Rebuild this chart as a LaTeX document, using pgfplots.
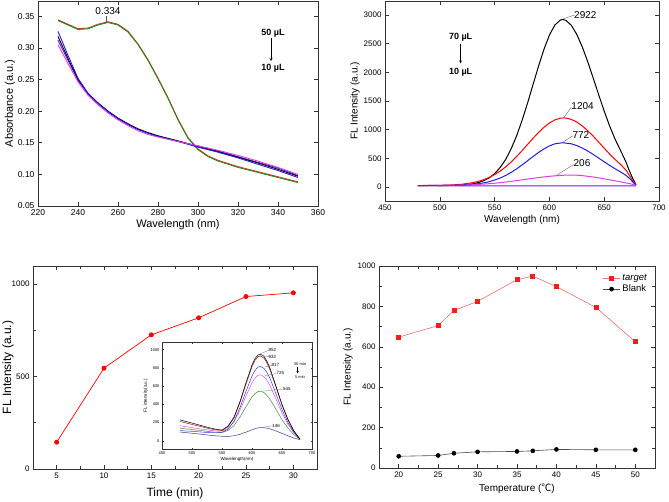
\documentclass[border=0pt]{standalone}
\usepackage{fontspec}
\setmainfont{Liberation Sans}
\newfontfamily\cjk{Noto Sans CJK SC}
\usepackage{pgfplots}
\pgfplotsset{compat=1.18}
\definecolor{pgreen}{RGB}{40,135,30}
\definecolor{pred}{RGB}{230,45,25}
\definecolor{pblue}{RGB}{30,30,225}
\definecolor{pmag}{RGB}{230,60,230}
\definecolor{ppur}{RGB}{110,30,210}
\definecolor{ired}{RGB}{150,20,20}
\definecolor{iblue}{RGB}{60,60,225}
\definecolor{imag}{RGB}{225,80,225}
\definecolor{igreen}{RGB}{50,150,50}
\definecolor{inavy}{RGB}{60,60,160}
\definecolor{tred}{RGB}{240,30,30}
\definecolor{tline}{RGB}{240,110,110}
\pgfplotsset{mystyle/.style={scale only axis, anchor=south west,
  axis line style={line width=0.6pt, black!80},
  tick style={black!80, line width=0.5pt},
  /pgf/number format/assume math mode=true,
  /pgf/number format/1000 sep={},
  tick label style={font=\fontsize{8.5}{9}\selectfont},
  label style={font=\fontsize{11}{12}\selectfont},
  clip=false},
  ylab/.style={ylabel style={at={(axis description cs:0,0.5)}, anchor=center, yshift=#1}},
  xlab/.style={xlabel style={at={(axis description cs:0.5,0)}, anchor=center, yshift=#1}}}
\begin{document}
\begin{tikzpicture}
\path[use as bounding box] (0,0) rectangle (669pt,501pt);
% ---------------- Panel 1
\begin{axis}[mystyle, at={(38pt,295pt)}, width=280pt, height=205pt,
  xmin=220, xmax=360, ymin=0.05, ymax=0.374,
  xtick={220,240,...,360}, ytick={0.05,0.10,...,0.36},
  y tick label style={/pgf/number format/.cd, fixed, fixed zerofill, precision=2},
  xlabel={Wavelength (nm)}, ylabel={Absorbance (a.u.)},
  ylab=28pt, xlab=-19pt]
\addplot[pred, line width=0.9pt] coordinates {(230,0.3442)(235,0.3372)(240,0.3302)(245,0.3312)(250,0.3372)(255,0.3412)(260,0.3372)(265,0.3262)(270,0.3062)(275,0.2812)(280,0.2522)(285,0.2212)(290,0.1872)(295,0.1582)(300,0.1402)(305,0.1292)(310,0.1222)(320,0.1122)(330,0.1042)(340,0.0962)(350,0.0882)};
\addplot[pgreen, line width=0.9pt] coordinates {(230,0.343)(235,0.336)(240,0.329)(245,0.330)(250,0.336)(255,0.340)(260,0.336)(265,0.325)(270,0.305)(275,0.280)(280,0.251)(285,0.220)(290,0.186)(295,0.157)(300,0.139)(305,0.128)(310,0.121)(320,0.111)(330,0.103)(340,0.095)(350,0.087)};
\addplot[ppur, line width=0.9pt] coordinates {(230,0.312)(235,0.280)(240,0.249)(245,0.227)(250,0.212)(255,0.199)(260,0.188)(265,0.179)(270,0.171)(275,0.165)(280,0.160)(290,0.152)(300,0.145)(310,0.137)(320,0.128)(330,0.119)(340,0.110)(350,0.098)};
\addplot[black, line width=0.9pt] coordinates {(230,0.318)(235,0.283)(240,0.250)(245,0.228)(250,0.213)(255,0.200)(260,0.189)(265,0.180)(270,0.172)(275,0.166)(280,0.161)(290,0.153)(300,0.144)(310,0.136)(320,0.127)(330,0.118)(340,0.108)(350,0.097)};
\addplot[pblue, line width=0.9pt] coordinates {(230,0.326)(235,0.288)(240,0.252)(245,0.228)(250,0.212)(255,0.199)(260,0.188)(265,0.179)(270,0.171)(275,0.165)(280,0.160)(290,0.152)(300,0.143)(310,0.135)(320,0.126)(330,0.116)(340,0.106)(350,0.095)};
\addplot[pmag, line width=0.9pt] coordinates {(230,0.305)(235,0.275)(240,0.246)(245,0.225)(250,0.210)(255,0.197)(260,0.186)(265,0.177)(270,0.169)(275,0.163)(280,0.159)(290,0.152)(300,0.145)(310,0.138)(320,0.130)(330,0.121)(340,0.111)(350,0.100)};
\draw[black!70, line width=0.5pt] (axis cs:254,0.341) -- (axis cs:254,0.351);
\node[anchor=south, inner sep=1pt, font=\fontsize{10}{11}\selectfont] at (axis cs:255,0.350) {0.334};
\node[font=\bfseries\fontsize{9}{10}\selectfont] at (axis cs:337.5,0.323) {50 µL};
\draw[-stealth, black, line width=0.4pt] (axis cs:336.5,0.316) -- (axis cs:336.5,0.279);
\node[font=\bfseries\fontsize{9}{10}\selectfont] at (axis cs:337.5,0.268) {10 µL};
\end{axis}
% ---------------- Panel 2
\begin{axis}[mystyle, at={(385pt,300pt)}, width=274pt, height=200pt,
  xmin=450, xmax=700, ymin=-245, ymax=3245,
  xtick={450,500,...,700}, ytick={0,500,...,3000},
  tick label style={font=\fontsize{8}{9}\selectfont},
  label style={font=\fontsize{10}{11}\selectfont},
  scaled y ticks=false,
  xlabel={Wavelength (nm)}, ylabel={FL Intensity (a.u.)},
  ylab=30pt, xlab=-19pt]
\addplot[black, line width=1pt] coordinates {(480,25)(490,25)(500,25)(510,27)(520,34)(530,54)(535,75)(540,108)(545,158)(550,232)(555,338)(560,477)(565,662)(570,888)(575,1158)(580,1459)(585,1783)(590,2102)(595,2401)(600,2650)(605,2826)(610,2913)(612,2922)(615,2908)(620,2821)(625,2661)(630,2444)(635,2183)(640,1899)(645,1607)(650,1323)(655,1062)(660,830)(665,633)(670,430)(673,280)(676,150)(679,40)};
\addplot[red, line width=1pt] coordinates {(480,25)(490,26)(500,28)(510,34)(520,47)(530,75)(535,97)(540,127)(545,166)(550,216)(555,276)(560,349)(565,434)(570,530)(575,632)(580,740)(585,848)(590,949)(595,1041)(600,1116)(605,1170)(610,1199)(613,1204)(615,1203)(620,1179)(625,1133)(630,1065)(635,981)(640,886)(645,782)(650,677)(655,574)(660,479)(665,392)(670,290)(673,200)(676,110)(679,35)};
\addplot[pblue, line width=1pt] coordinates {(480,25)(500,26)(510,28)(520,33)(530,45)(535,56)(540,71)(545,92)(550,120)(555,155)(560,200)(565,253)(570,314)(575,383)(580,456)(585,530)(590,601)(595,664)(600,716)(605,753)(612,772)(620,753)(625,722)(630,679)(635,627)(640,567)(645,504)(650,439)(655,376)(660,317)(665,262)(670,200)(673,150)(676,90)(679,30)};
\addplot[pmag, line width=1pt] coordinates {(480,22)(490,23)(500,24)(510,27)(520,31)(530,39)(540,50)(550,65)(560,85)(570,110)(580,137)(590,164)(600,186)(610,202)(615,206)(620,207)(625,205)(630,198)(640,174)(650,141)(660,107)(670,70)(675,50)(679,30)};
\addplot[ppur, line width=1pt] coordinates {(480,22)(520,20)(560,18)(600,17)(640,17)(679,20)};
\draw[black!60, line width=0.4pt] (axis cs:612,2930) -- (axis cs:623,3000);
\node[anchor=west, inner sep=0.5pt, font=\fontsize{10}{11}\selectfont] at (axis cs:622,3000) {2922};
\draw[black!60, line width=0.4pt] (axis cs:613,1210) -- (axis cs:620,1390);
\node[anchor=west, inner sep=0.5pt, font=\fontsize{10}{11}\selectfont] at (axis cs:619.5,1410) {1204};
\draw[black!60, line width=0.4pt] (axis cs:612,778) -- (axis cs:621,890);
\node[anchor=west, inner sep=0.5pt, font=\fontsize{10}{11}\selectfont] at (axis cs:620.5,910) {772};
\draw[black!60, line width=0.4pt] (axis cs:607,210) -- (axis cs:622,390);
\node[anchor=west, inner sep=0.5pt, font=\fontsize{10}{11}\selectfont] at (axis cs:621.5,410) {206};
\node[font=\bfseries\fontsize{9}{10}\selectfont] at (axis cs:519,2618) {70 µL};
\draw[-stealth, black, line width=0.4pt] (axis cs:519,2503) -- (axis cs:519,2155);
\node[font=\bfseries\fontsize{9}{10}\selectfont] at (axis cs:519,2009) {10 µL};
\end{axis}
% ---------------- Panel 3
\begin{axis}[mystyle, at={(33pt,32pt)}, width=284pt, height=203pt,
  xmin=2.5, xmax=32.5, ymin=0, ymax=1097,
  xtick={5,10,...,30}, ytick={0,500,1000},
  minor x tick num=1, minor y tick num=1,
  scaled y ticks=false,
  tick label style={font=\fontsize{8}{9}\selectfont},
  label style={font=\fontsize{12}{13}\selectfont},
  xlabel={Time (min)}, ylabel={FL Intensity (a.u.)},
  ylab=25pt, xlab=-24pt]
\addplot[red, line width=0.7pt, mark=*, mark size=2.1pt, mark options={fill=red, draw=red}] coordinates {(5,145)(10,545)(15,725)(20,817)(25,932)(30,952)};
\end{axis}
% ---------------- Inset
\begin{axis}[mystyle, at={(162pt,52pt)}, width=150pt, height=107pt,
  axis background/.style={fill=white},
  xmin=450, xmax=700, ymin=-90, ymax=1085,
  xtick={450,500,...,700}, ytick={0,200,...,1000},
  scaled y ticks=false, clip=false,
  tick label style={font=\fontsize{4}{4.5}\selectfont},
  tick align=inside, major tick length=1.5pt,
  label style={font=\fontsize{4.5}{5}\selectfont},
  xticklabel shift=-1pt, yticklabel shift=-1pt,
  xlabel={Wavelength(nm)}, ylabel={FL intensity(a.u.)},
  xlabel style={yshift=4pt}, ylabel style={yshift=-4pt}]
\addplot[inavy, line width=0.5pt] coordinates {(480,96)(490,90)(500,83)(510,76)(520,68)(530,61)(540,55)(550,50)(560,48)(570,55)(580,72)(590,95)(600,120)(605,133)(610,142)(615,146)(620,144)(625,139)(630,131)(640,108)(650,82)(660,55)(670,30)(680,12)};
\addplot[igreen, line width=0.5pt] coordinates {(480,139)(490,131)(500,124)(510,116)(520,108)(530,100)(540,95)(550,92)(560,114)(570,167)(580,262)(590,375)(600,481)(605,519)(610,541)(614,545)(620,530)(625,499)(630,456)(640,346)(650,231)(660,138)(670,66)(680,15)};
\addplot[imag, line width=0.5pt] coordinates {(480,165)(490,155)(500,145)(510,135)(520,125)(530,115)(540,108)(550,105)(560,135)(570,210)(580,337)(590,492)(600,637)(605,689)(610,719)(614,725)(620,705)(625,664)(630,607)(640,459)(650,306)(660,180)(670,84)(680,17)};
\addplot[iblue, line width=0.5pt] coordinates {(480,113)(490,108)(500,104)(510,99)(520,94)(530,90)(540,88)(550,92)(560,129)(570,215)(580,365)(590,544)(600,712)(605,772)(610,809)(614,817)(620,795)(625,749)(630,684)(640,517)(650,343)(660,201)(670,92)(680,18)};
\addplot[ired, line width=0.5pt] coordinates {(480,212)(490,196)(500,180)(510,164)(520,148)(530,132)(540,120)(550,113)(560,154)(570,252)(580,421)(590,624)(600,814)(605,883)(610,923)(614,932)(620,907)(625,854)(630,780)(640,589)(650,391)(660,229)(670,105)(680,19)};
\addplot[black, line width=0.5pt] coordinates {(480,230)(490,212)(500,195)(510,177)(520,159)(530,141)(540,127)(550,118)(560,161)(570,260)(580,432)(590,639)(600,832)(605,903)(610,943)(614,952)(620,927)(625,872)(630,797)(640,601)(650,399)(660,234)(670,106)(680,19)};
\draw[black!60, line width=0.25pt] (axis cs:614,955) -- (axis cs:628,995);
\node[anchor=west, inner sep=0.3pt, font=\fontsize{4.5}{5}\selectfont] at (axis cs:627,1000) {952};
\draw[black!60, line width=0.25pt] (axis cs:619,932) -- (axis cs:628,925);
\node[anchor=west, inner sep=0.3pt, font=\fontsize{4.5}{5}\selectfont] at (axis cs:627,925) {932};
\draw[black!60, line width=0.25pt] (axis cs:621,812) -- (axis cs:633,830);
\node[anchor=west, inner sep=0.3pt, font=\fontsize{4.5}{5}\selectfont] at (axis cs:632,835) {817};
\draw[black!60, line width=0.25pt] (axis cs:622,715) -- (axis cs:641,740);
\node[anchor=west, inner sep=0.3pt, font=\fontsize{4.5}{5}\selectfont] at (axis cs:640,745) {725};
\draw[black!60, line width=0.25pt] (axis cs:618,545) -- (axis cs:652,568);
\node[anchor=west, inner sep=0.3pt, font=\fontsize{4.5}{5}\selectfont] at (axis cs:651,568) {545};
\draw[black!60, line width=0.25pt] (axis cs:618,147) -- (axis cs:634,165);
\node[anchor=west, inner sep=0.3pt, font=\fontsize{4.5}{5}\selectfont] at (axis cs:633,168) {146};
\node[font=\fontsize{4}{4.5}\selectfont] at (axis cs:680,838) {30 min};
\draw[-stealth, line width=0.25pt] (axis cs:676,805) -- (axis cs:676,740);
\node[font=\fontsize{4}{4.5}\selectfont] at (axis cs:680,700) {5 min};
\end{axis}
% ---------------- Panel 4
\begin{axis}[mystyle, at={(379pt,33pt)}, width=276pt, height=202pt,
  xmin=17.5, xmax=52.5, ymin=0, ymax=1000,
  xtick={20,25,...,50}, ytick={0,200,...,1000},
  minor x tick num=1, minor y tick num=1,
  scaled y ticks=false,
  tick label style={font=\fontsize{8}{9}\selectfont},
  label style={font=\fontsize{10}{11}\selectfont},
  xlabel={Temperature ({\cjk ℃})}, ylabel={FL Intensity (a.u.)},
  ylab=31pt, xlab=-21pt,
  legend style={draw=none, fill=none, at={(0.99,0.98)}, anchor=north east, font=\fontsize{9.5}{10}\selectfont, row sep=-1pt},
  legend cell align=left]
\addplot[tline, line width=0.6pt, mark=square*, mark size=2pt, mark options={fill=tred, draw=tred}] coordinates {(20,648)(25,705)(27,780)(30,825)(35,932)(37,950)(40,898)(45,795)(50,625)};
\addlegendentry{\textit{target}}
\addplot[black!70, line width=0.6pt, mark=*, mark size=2pt, mark options={fill=black, draw=black}] coordinates {(20,58)(25,62)(27,73)(30,80)(35,82)(37,85)(40,92)(45,90)(50,90)};
\addlegendentry{Blank}
\end{axis}
\end{tikzpicture}
\end{document}
